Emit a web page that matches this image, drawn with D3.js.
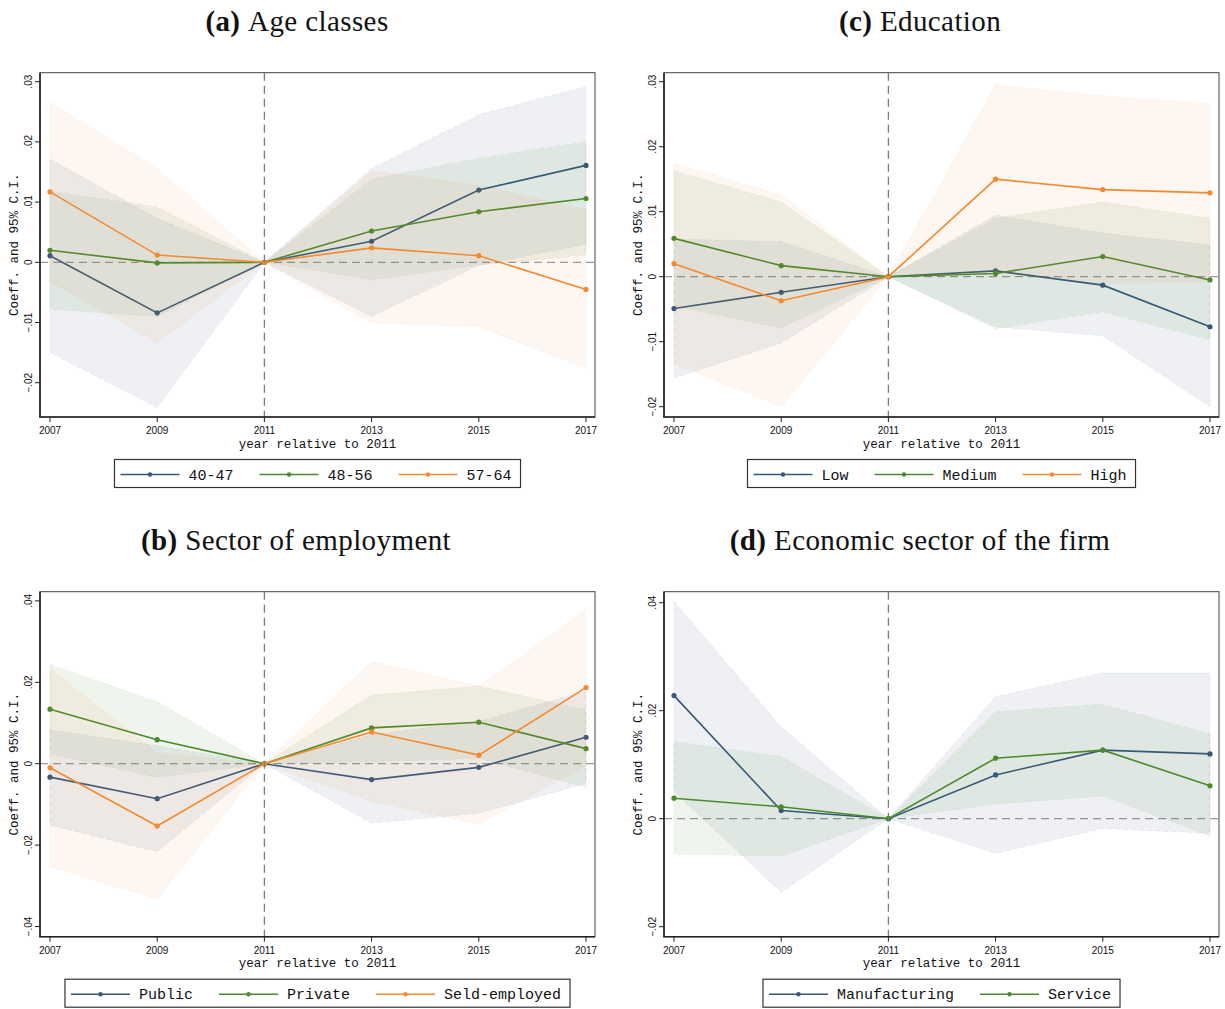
<!DOCTYPE html>
<html>
<head>
<meta charset="utf-8">
<script src="https://cdn.jsdelivr.net/npm/d3@7"></script>
<style>
  body { margin: 0; background: #fff; }
  svg { display: block; }
</style>
</head>
<body>
<script>
// ---------------- DATA ----------------
const years = [2007, 2009, 2011, 2013, 2015, 2017];

// (a) Age classes
const ageLabels = ["40-47", "48-56", "57-64"];
const age4047 = [0.0011, -0.0084, 0, 0.0035, 0.0120, 0.0161];
const age4047Lo = [-0.0150, -0.0241, 0, -0.0090, -0.0005, 0.0030];
const age4047Hi = [0.0171, 0.0073, 0, 0.0156, 0.0245, 0.0292];
const age4856 = [0.0020, -0.0001, 0, 0.0052, 0.0084, 0.0106];
const age4856Lo = [-0.0078, -0.0090, 0, -0.0029, -0.0005, 0.0012];
const age4856Hi = [0.0118, 0.0092, 0, 0.0138, 0.0173, 0.0200];
const age5764 = [0.0117, 0.0012, 0, 0.0024, 0.0011, -0.0045];
const age5764Lo = [-0.0032, -0.0134, 0, -0.0101, -0.0107, -0.0176];
const age5764Hi = [0.0266, 0.0156, 0, 0.0152, 0.0128, 0.0087];

// (c) Education
const eduLabels = ["Low", "Medium", "High"];
const eduLow = [-0.0049, -0.0024, 0, 0.0009, -0.0013, -0.0077];
const eduLowLo = [-0.0156, -0.0102, 0, -0.0077, -0.0091, -0.0200];
const eduLowHi = [0.0058, 0.0054, 0, 0.0095, 0.0067, 0.0049];
const eduMed = [0.0059, 0.0017, 0, 0.0005, 0.0031, -0.0005];
const eduMedLo = [-0.0045, -0.0079, 0, -0.0080, -0.0054, -0.0097];
const eduMedHi = [0.0163, 0.0115, 0, 0.0090, 0.0115, 0.0090];
const eduHigh = [0.0020, -0.0037, 0, 0.0150, 0.0134, 0.0129];
const eduHighLo = [-0.0134, -0.0200, 0, 0.0005, -0.0010, -0.0008];
const eduHighHi = [0.0174, 0.0126, 0, 0.0295, 0.0278, 0.0266];

// (b) Sector of employment
const empLabels = ["Public", "Private", "Seld-employed"];
const empPub = [-0.0033, -0.0086, 0, -0.0039, -0.0009, 0.0065];
const empPubLo = [-0.0151, -0.0216, 0, -0.0146, -0.0122, -0.0048];
const empPubHi = [0.0083, 0.0044, 0, 0.0071, 0.0104, 0.0178];
const empPriv = [0.0134, 0.0059, 0, 0.0088, 0.0102, 0.0037];
const empPrivLo = [0.0024, -0.0033, 0, 0.0005, 0.0013, -0.0058];
const empPrivHi = [0.0244, 0.0152, 0, 0.0169, 0.0191, 0.0132];
const empSelf = [-0.0010, -0.0153, 0, 0.0078, 0.0021, 0.0187];
const empSelfLo = [-0.0253, -0.0333, 0, -0.0093, -0.0148, -0.0005];
const empSelfHi = [0.0234, 0.0027, 0, 0.0251, 0.0190, 0.0379];

// (d) Economic sector of the firm
const secLabels = ["Manufacturing", "Service"];
const secMan = [0.0228, 0.0015, 0, 0.0081, 0.0127, 0.0120];
const secManLo = [0.0050, -0.0136, 0, -0.0064, -0.0018, -0.0027];
const secManHi = [0.0402, 0.0170, 0, 0.0226, 0.0270, 0.0270];
const secServ = [0.0038, 0.0022, 0, 0.0112, 0.0127, 0.0061];
const secServLo = [-0.0066, -0.0069, 0, 0.0027, 0.0042, -0.0032];
const secServHi = [0.0143, 0.0115, 0, 0.0198, 0.0212, 0.0157];

const ticksA = [-0.02, -0.01, 0, 0.01, 0.02, 0.03];
const ticksC = [-0.02, -0.01, 0, 0.01, 0.02, 0.03];
const ticksB = [-0.04, -0.02, 0, 0.02, 0.04];
const ticksD = [-0.02, 0, 0.02, 0.04];

// ---------------- STYLE ----------------
const colors = ["#36567c", "#4a8a2c", "#f4892f"];
const fillOpacity = [0.085, 0.085, 0.075];
const W = 1225, H = 1009;

const svg = d3.select("body").append("svg").attr("width", W).attr("height", H);

const fmt = v => {
  if (Math.abs(v) < 1e-12) return "0";
  let s = d3.format(".2f")(v);
  return s.replace("0.", ".");
};

function panel(cfg) {
  const { left, right, top, bottom, yMin, yMax, ticks, series, labels, title, titleX, titleY } = cfg;
  const g = svg.append("g");
  const x = d3.scaleLinear().domain([2007, 2017]).range([left + 10, right - 9]);
  const y = d3.scaleLinear().domain([yMin, yMax]).range([bottom, top]);

  // title
  const t = svg.append("text").attr("x", titleX).attr("y", titleY)
    .attr("text-anchor", "middle")
    .style("font-family", "'Liberation Serif', 'DejaVu Serif', serif")
    .style("font-size", "29px").style("letter-spacing", "0.4px").attr("fill", "#111");
  t.append("tspan").style("font-weight", "bold").text(title[0]);
  t.append("tspan").text("\u00A0" + title[1]);

  // frame
  g.append("rect").attr("x", left).attr("y", top).attr("width", right - left).attr("height", bottom - top)
    .attr("fill", "#fff").attr("stroke", "#444").attr("stroke-width", 1);

  const clipId = "clip" + Math.round(left) + "_" + Math.round(top);
  svg.append("clipPath").attr("id", clipId).append("rect")
    .attr("x", left).attr("y", top).attr("width", right - left).attr("height", bottom - top);
  const pg = g.append("g").attr("clip-path", `url(#${clipId})`);

  // zero reference line
  pg.append("line").attr("x1", left).attr("x2", right).attr("y1", y(0)).attr("y2", y(0))
    .attr("stroke", "#9a9a9a").attr("stroke-width", 1.3).attr("stroke-dasharray", "8,5");

  const area = d3.area().x((d, i) => x(years[i])).y0(d => y(d[0])).y1(d => y(d[1]));
  const line = d3.line().x((d, i) => x(years[i])).y(d => y(d));

  // each series: CI band, then connected line; later bands mute earlier lines
  series.forEach((s, k) => {
    const band = years.map((yr, i) => [s.lo[i], s.hi[i]]);
    pg.append("path").datum(band).attr("d", area)
      .attr("fill", colors[k]).attr("fill-opacity", fillOpacity[k])
      .attr("stroke", colors[k]).attr("stroke-opacity", 0.1).attr("stroke-width", 0.8)
      .attr("stroke-dasharray", "5,3");
    pg.append("path").datum(s.v).attr("d", line)
      .attr("fill", "none").attr("stroke", colors[k]).attr("stroke-width", 1.6);
    pg.selectAll(null).data(s.v).enter().append("circle")
      .attr("cx", (d, i) => x(years[i])).attr("cy", d => y(d)).attr("r", 2.6)
      .attr("fill", colors[k]);
  });

  // vertical 2011 line
  g.append("line").attr("x1", x(2011)).attr("x2", x(2011)).attr("y1", top).attr("y2", bottom)
    .attr("stroke", "#7a7a7a").attr("stroke-width", 1.3).attr("stroke-dasharray", "8,5");

  // axes lines
  g.append("line").attr("x1", left).attr("x2", left).attr("y1", top).attr("y2", bottom)
    .attr("stroke", "#222").attr("stroke-width", 1.6);
  g.append("line").attr("x1", left - 0.8).attr("x2", right).attr("y1", bottom).attr("y2", bottom)
    .attr("stroke", "#222").attr("stroke-width", 1.6);

  // y ticks
  ticks.forEach(tv => {
    const yy = y(tv);
    g.append("line").attr("x1", left - 5).attr("x2", left).attr("y1", yy).attr("y2", yy)
      .attr("stroke", "#222").attr("stroke-width", 1);
    g.append("text").attr("transform", `translate(${left - 8},${yy}) rotate(-90)`)
      .attr("text-anchor", "middle")
      .style("font-family", "'Liberation Sans', Arial, sans-serif").style("font-size", "10px")
      .attr("fill", "#111").text(fmt(tv));
  });
  // x ticks
  years.forEach(yr => {
    const xx = x(yr);
    g.append("line").attr("x1", xx).attr("x2", xx).attr("y1", bottom).attr("y2", bottom + 5)
      .attr("stroke", "#222").attr("stroke-width", 1);
    g.append("text").attr("x", xx).attr("y", bottom + 17).attr("text-anchor", "middle")
      .style("font-family", "'Liberation Sans', Arial, sans-serif").style("font-size", "10px")
      .attr("fill", "#111").text(yr);
  });
  // axis titles
  g.append("text").attr("x", (left + right) / 2).attr("y", bottom + 30.5).attr("text-anchor", "middle")
    .style("font-family", "'Liberation Mono', 'DejaVu Sans Mono', monospace").style("font-size", "12.5px")
    .attr("fill", "#111").text("year relative to 2011");
  g.append("text").attr("transform", `translate(${left - 22},${(top + bottom) / 2}) rotate(-90)`)
    .attr("text-anchor", "middle")
    .style("font-family", "'Liberation Mono', 'DejaVu Sans Mono', monospace").style("font-size", "12.5px")
    .attr("fill", "#111").text("Coeff. and 95% C.I.");

  // legend
  const lg = svg.append("g");
  const lgTop = bottom + 42.5, lgH = 28;
  let cx = 0;
  labels.forEach((lab, k) => {
    const ig = lg.append("g").attr("transform", `translate(${cx},0)`);
    ig.append("line").attr("x1", 0).attr("x2", 59).attr("y1", 15).attr("y2", 15)
      .attr("stroke", colors[k]).attr("stroke-width", 1.4);
    ig.append("circle").attr("cx", 29.5).attr("cy", 15).attr("r", 2.2).attr("fill", colors[k]);
    const tx = ig.append("text").attr("x", 68).attr("y", 20)
      .style("font-family", "'Liberation Mono', 'DejaVu Sans Mono', monospace").style("font-size", "15px")
      .attr("fill", "#111").text(lab);
    const w = tx.node().getComputedTextLength();
    cx += 68 + w + 26;
  });
  const totalW = cx - 26 + 6 + 9;
  const lgLeft = (left + right) / 2 - totalW / 2;
  lg.attr("transform", `translate(${lgLeft + 6},${lgTop})`);
  lg.insert("rect", ":first-child").attr("x", -6).attr("y", 0).attr("width", totalW).attr("height", lgH)
    .attr("fill", "#fff").attr("stroke", "#333").attr("stroke-width", 1.2);
}

panel({
  left: 40, right: 595, top: 72.7, bottom: 417,
  yMin: -(417 - 262.3) / 6020, yMax: (262.3 - 72.7) / 6020, ticks: ticksA,
  series: [
    { v: age4047, lo: age4047Lo, hi: age4047Hi },
    { v: age4856, lo: age4856Lo, hi: age4856Hi },
    { v: age5764, lo: age5764Lo, hi: age5764Hi }],
  labels: ageLabels, title: ["(a)", "Age classes"], titleX: 297, titleY: 31
});
panel({
  left: 664, right: 1219, top: 72.7, bottom: 417,
  yMin: -(417 - 276.7) / 6500, yMax: (276.7 - 72.7) / 6500, ticks: ticksC,
  series: [
    { v: eduLow, lo: eduLowLo, hi: eduLowHi },
    { v: eduMed, lo: eduMedLo, hi: eduMedHi },
    { v: eduHigh, lo: eduHighLo, hi: eduHighHi }],
  labels: eduLabels, title: ["(c)", "Education"], titleX: 920, titleY: 31
});
panel({
  left: 40, right: 595, top: 591.7, bottom: 936.7,
  yMin: -(936.7 - 763.7) / 4070, yMax: (763.7 - 591.7) / 4070, ticks: ticksB,
  series: [
    { v: empPub, lo: empPubLo, hi: empPubHi },
    { v: empPriv, lo: empPrivLo, hi: empPrivHi },
    { v: empSelf, lo: empSelfLo, hi: empSelfHi }],
  labels: empLabels, title: ["(b)", "Sector of employment"], titleX: 296, titleY: 550
});
panel({
  left: 664, right: 1219, top: 591.7, bottom: 936.7,
  yMin: -(936.7 - 818.7) / 5400, yMax: (818.7 - 591.7) / 5400, ticks: ticksD,
  series: [
    { v: secMan, lo: secManLo, hi: secManHi },
    { v: secServ, lo: secServLo, hi: secServHi }],
  labels: secLabels, title: ["(d)", "Economic sector of the firm"], titleX: 920, titleY: 550
});
</script>
</body>
</html>
